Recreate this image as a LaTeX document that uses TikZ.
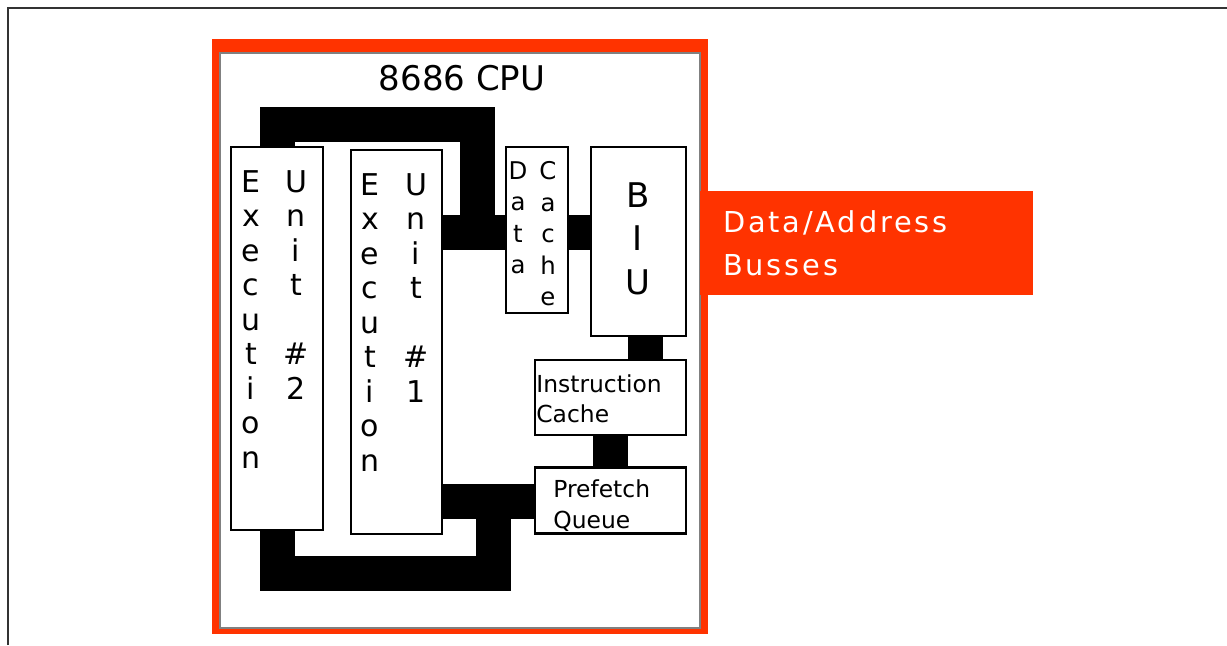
\documentclass[tikz,border=0pt]{standalone}
\usepackage{fontspec}
\setmainfont{DejaVu Sans}
\usetikzlibrary{positioning}
\definecolor{cpured}{RGB}{255,51,0}

\begin{document}
\begin{tikzpicture}[
        x=0.5pt, y=-0.5pt,
        unit/.style={rectangle, draw, line width=1.2pt, fill=white, inner sep=0pt},
        vtext/.style={inner sep=0pt, anchor=north, align=center, font=\fontsize{15}{17.25}\selectfont},
        htext/.style={inner sep=0pt, anchor=north west, align=left, font=\fontsize{11.7}{15}\selectfont},
        bus/.style={line width=17.5pt, black}
    ]
\useasboundingbox (0,0) rectangle (1227,645);
% page frame
        \draw[line width=1pt, black!80] (8,645) -- (8,8) -- (1227,8);

% chip outline
        \fill[cpured] (212,39) rectangle (708,634);
        \node[rectangle, draw=gray, fill=white, line width=0.8pt, inner sep=0pt,
              minimum width=240pt, minimum height=287.5pt] (chip) at (460,340.5) {};
        \node[font=\fontsize{17}{20}\selectfont, inner sep=0pt] (title) at (462,78) {8686 CPU};

% external busses label
        \node[rectangle, fill=cpured, text=white, inner sep=0pt, minimum width=166.5pt, minimum height=52pt,
              text width=143.5pt, align=left, font=\fontsize{14.4}{21.5}\selectfont\addfontfeature{LetterSpace=10}]
              (busses) at (866.5,243) {Data/Address\\Busses};

% Boxes
        \node[unit, minimum width=46pt, minimum height=191.5pt] (eu2) at (277,338.5) {};
        \node[unit, minimum width=45.5pt, minimum height=192pt] (eu1) at (396.5,342) {};
        \node[unit, minimum width=31pt, minimum height=83pt] (dc) at (537,230) {};
        \node[unit, minimum width=47.5pt, minimum height=94.5pt] (biu) at (638.5,241.5) {};
        \node[unit, minimum width=75.5pt, minimum height=37.5pt] (ic) at (610.5,397.5) {};
        \node[unit, minimum width=75.5pt, minimum height=33pt] (pq) at (610.5,500.5) {};

% Box texts
        \node[vtext] (eu2a) at (251,170) {E\\x\\e\\c\\u\\t\\i\\o\\n};
        \node[vtext] (eu2b) at (296,170) {U\\n\\i\\t\\\mbox{}\\\#\\2};
        \node[vtext] (eu1a) at (370,173) {E\\x\\e\\c\\u\\t\\i\\o\\n};
        \node[vtext] (eu1b) at (416,173) {U\\n\\i\\t\\\mbox{}\\\#\\1};
        \node[vtext, font=\fontsize{12.2}{15.75}\selectfont] (dca) at (518,161) {D\\a\\t\\a};
        \node[vtext, font=\fontsize{12.2}{15.75}\selectfont] (dcb) at (548,161) {C\\a\\c\\h\\e};
        \node[vtext, font=\fontsize{17}{21.75}\selectfont] (biut) at (638,182) {B\\I\\U};
        \node[htext] (ict) at (536,374) {Instruction\\Cache};
        \node[htext, font=\fontsize{11.7}{15.75}\selectfont] (pqt) at (553,479) {Prefetch\\Queue};

% Busses
        \coordinate (dj) at (477,232);
        \coordinate (pj) at (493,501);
        \draw[bus] (eu2.north) |- (477,124) -- (dj);
        \draw[bus] (eu1.east |- dj) -- (dc.west |- dj);
        \draw[bus] (dc.east |- dj) -- (biu.west |- dj);
        \draw[bus] ([xshift=3.25pt]biu.south) -- ([xshift=3.25pt]biu.south |- ic.north);
        \draw[bus] (ic.south) -- (pq.north);
        \draw[bus] (eu2.south) |- (493,573) -- (pj);
        \draw[bus] (eu1.east |- pj) -- (pq.west |- pj);
\end{tikzpicture}
\end{document}
